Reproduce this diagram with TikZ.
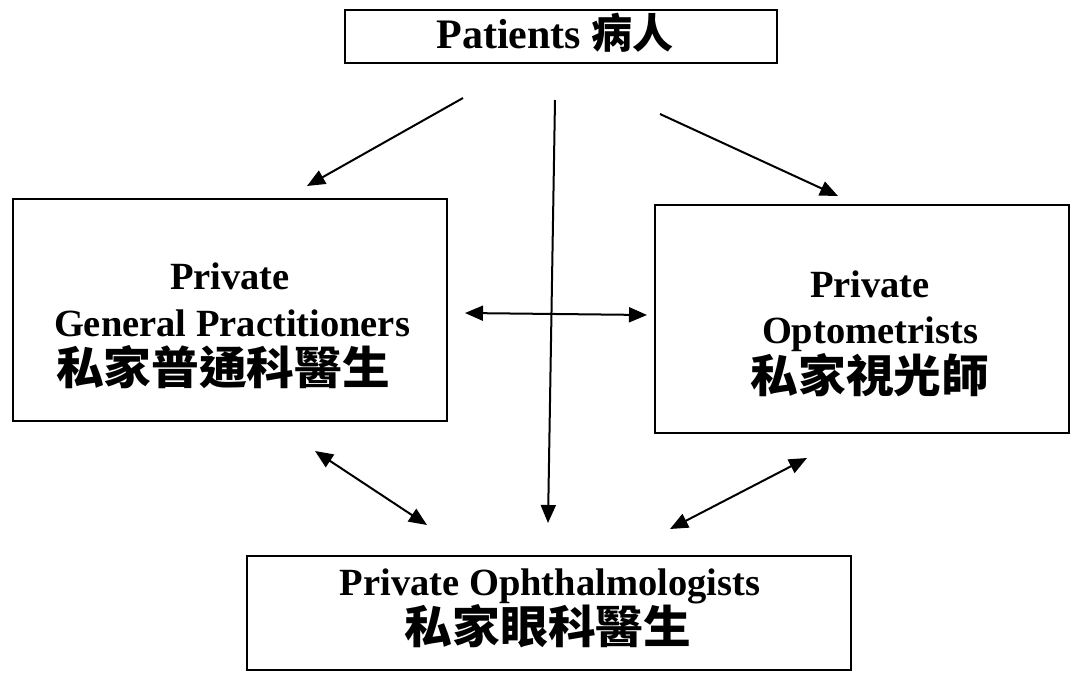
\documentclass[tikz,border=0pt]{standalone}
\usepackage{fontspec}
\setmainfont{Liberation Serif}
\newfontfamily\cjk{Noto Sans CJK TC}
\usetikzlibrary{arrows.meta}
\newcommand{\lattext}[1]{{\fontsize{38.5}{38.5}\selectfont\bfseries #1}}
\newcommand{\hantext}[1]{\scalebox{1.06}[1]{\fontsize{45}{45}\selectfont\cjk\bfseries #1}}
\tikzset{
  boxstyle/.style={draw=black, line width=1.8pt, rectangle, inner sep=0pt},
  txt/.style={anchor=base, inner sep=0pt},
  conn/.style={line width=2pt, -{Triangle[length=18pt,width=15pt]}},
  dconn/.style={line width=2pt, {Triangle[length=18pt,width=15pt]}-{Triangle[length=18pt,width=15pt]}}
}
\begin{document}
\begin{tikzpicture}[x=1pt,y=-1pt]
\useasboundingbox (0,0) rectangle (1072,678);
% boxes
\node[boxstyle, minimum width=432pt, minimum height=53pt] (patbox) at (561,36.5) {};
\node[boxstyle, minimum width=434pt, minimum height=222pt] (gpbox) at (230,310) {};
\node[boxstyle, minimum width=414pt, minimum height=228pt] (optbox) at (862,319) {};
\node[boxstyle, minimum width=604pt, minimum height=114pt] (ophbox) at (549,613) {};
% texts
\node[txt] (pattxt) at (555,48) {{\fontsize{42}{42}\selectfont\bfseries Patients {\fontsize{41}{41}\selectfont\cjk\bfseries 病人}}};
\node[txt] (gp1) at (230,289) {\lattext{Private}};
\node[txt] (gp2) at (232,336) {\lattext{General Practitioners}};
\node[txt] (gp3) at (223,384) {\hantext{私家普通科醫生}};
\node[txt] (opt1) at (870,297) {\lattext{Private}};
\node[txt] (opt2) at (870,343) {\lattext{Optometrists}};
\node[txt] (opt3) at (870,392) {\hantext{私家視光師}};
\node[txt] (oph1) at (550,595) {\lattext{Private Ophthalmologists}};
\node[txt] (oph2) at (548,643) {\hantext{私家眼科醫生}};
% connector end points
\coordinate (pL) at (463,98);
\coordinate (pM) at (555,100);
\coordinate (pR) at (660,114);
\coordinate (gpT) at (307,186);
\coordinate (optT) at (838,196);
\coordinate (ophT) at (548,523);
\coordinate (gpR) at (465,313);
\coordinate (optL) at (647,315);
\coordinate (gpB) at (315,451);
\coordinate (ophL) at (427,525);
\coordinate (optB) at (807,458);
\coordinate (ophR) at (670,529);
% connectors
\draw[conn] (pL) -- (gpT);
\draw[conn] (pR) -- (optT);
\draw[conn] (pM) -- (ophT);
\draw[dconn] (gpR) -- (optL);
\draw[dconn] (gpB) -- (ophL);
\draw[dconn] (optB) -- (ophR);
\end{tikzpicture}
\end{document}
